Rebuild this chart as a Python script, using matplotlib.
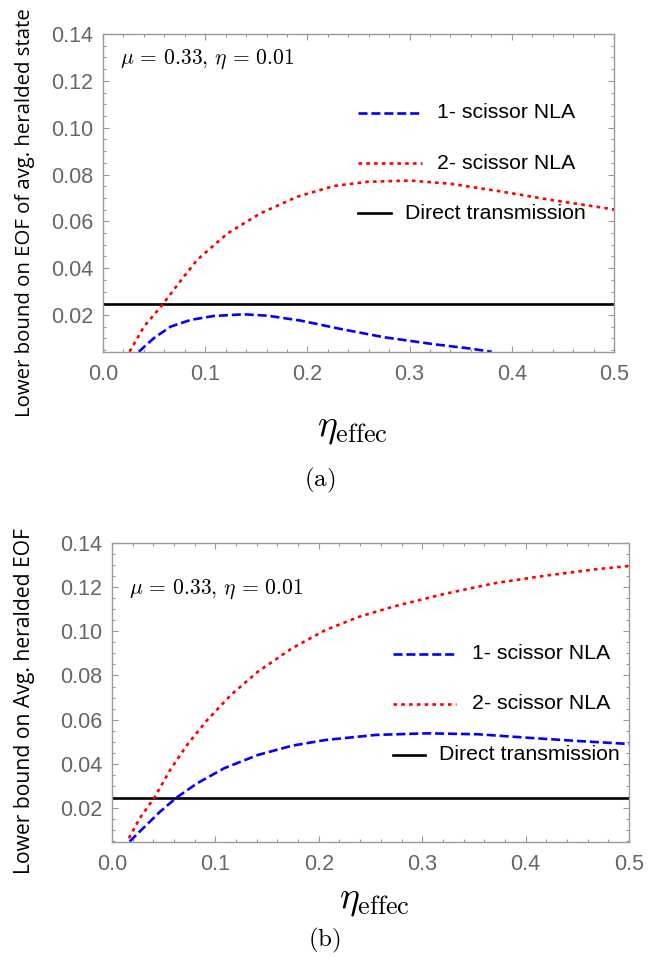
#!/usr/bin/env python3
"""
Lower bound on EOF vs eta_effec, two panels (a) and (b).
"""
import matplotlib
matplotlib.use("Agg")
import matplotlib.pyplot as plt
from matplotlib.ticker import MultipleLocator

plt.rcParams['mathtext.fontset'] = 'cm'
plt.rcParams['lines.scale_dashes'] = False

W, H = 670, 959

# panel (a): avg. heralded state
eta_a_one = [0.035, 0.0497, 0.066, 0.0857, 0.1086, 0.138, 0.161, 0.1936, 0.233, 0.275, 0.324, 0.357, 0.380]
eof_a_one = [0.0043, 0.0101, 0.0150, 0.0179, 0.0196, 0.0203, 0.0197, 0.0176, 0.0140, 0.0105, 0.0075, 0.0058, 0.0043]
eta_a_two = [0.026, 0.040, 0.058, 0.074, 0.092, 0.122, 0.154, 0.190, 0.226, 0.259, 0.301, 0.341, 0.390, 0.439, 0.500]
eof_a_two = [0.0043, 0.0150, 0.0243, 0.0335, 0.0435, 0.0549, 0.0634, 0.0705, 0.0751, 0.0769, 0.0774, 0.0760, 0.0727, 0.0691, 0.0651]

# panel (b): avg. heralded EOF
eta_b_one = [0.017, 0.030, 0.0464, 0.0627, 0.0824, 0.1085, 0.141, 0.174, 0.2065, 0.2556, 0.3046, 0.3536, 0.4026, 0.4516, 0.500]
eof_b_one = [0.0048, 0.0108, 0.0183, 0.0248, 0.0312, 0.0380, 0.0440, 0.0482, 0.0508, 0.0531, 0.0538, 0.0534, 0.0518, 0.0503, 0.0490]
eta_b_two = [0.0163, 0.0268, 0.0415, 0.0562, 0.0725, 0.0922, 0.115, 0.141, 0.174, 0.2065, 0.239, 0.272, 0.321, 0.370, 0.419, 0.468, 0.500]
eof_b_two = [0.0063, 0.0153, 0.0251, 0.0372, 0.0485, 0.0599, 0.0712, 0.0817, 0.0923, 0.1006, 0.1066, 0.1112, 0.1169, 0.1218, 0.1252, 0.1281, 0.1296]

direct_eof = 0.0247
x_range = [0.0, 0.5]
y_min_a, y_min_b, y_max = 0.0042, 0.0046, 0.14

legend_labels = ['1- scissor NLA', '2- scissor NLA', 'Direct transmission']
ylabel_a = 'Lower bound on EOF of avg. heralded state'
ylabel_b = 'Lower bound on Avg. heralded EOF'
note = r'$\mu\,=\,0.33,\,\eta\,=\,0.01$'

GRAY = '#9a9a9a'
TICK_TXT = '#666666'
LW = 1.9
TICK_FS = 15.5
LEG_FS = 15.3


def px(x, y):
    """pixel position -> figure fraction"""
    return x / W, 1 - y / H


def style_axes(ax, ymin):
    ax.set_xlim(*x_range)
    ax.set_ylim(ymin, y_max)
    ax.xaxis.set_major_locator(MultipleLocator(0.1))
    ax.xaxis.set_minor_locator(MultipleLocator(0.02))
    ax.yaxis.set_major_locator(MultipleLocator(0.02))
    ax.yaxis.set_minor_locator(MultipleLocator(0.005))
    ax.xaxis.set_major_formatter(lambda v, p: f'{v:.1f}')
    ax.yaxis.set_major_formatter(lambda v, p: f'{v:.2f}')
    ax.tick_params(which='both', direction='in', top=True, right=True, color=GRAY, width=0.8)
    ax.tick_params(which='major', length=4.5)
    ax.tick_params(which='minor', length=2.2)
    ax.tick_params(axis='x', which='major', pad=9, labelsize=TICK_FS, labelcolor=TICK_TXT)
    ax.tick_params(axis='y', which='major', pad=7, labelsize=TICK_FS, labelcolor=TICK_TXT)
    for lab in ax.get_xticklabels() + ax.get_yticklabels():
        lab.set_family('Liberation Sans')
    for s in ax.spines.values():
        s.set_color(GRAY)
        s.set_linewidth(1.0)


def draw_panel(ax, x1, y1, x2, y2, ymin, leg):
    ax.axhline(direct_eof, color='black', lw=LW)
    ax.plot(x1, y1, color='blue', lw=LW, dashes=(6.5, 2.8))
    ax.plot(x2, y2, color='red', lw=LW, dashes=(2.6, 3.0))
    style_axes(ax, ymin)

    # legend drawn by hand, Mathematica style (shorter solid handle)
    lx0, lx1, tx, ly_blue, ly_red, lx1_black, tx_black, ly_black = leg
    ax.plot([lx0, lx1], [ly_blue, ly_blue], transform=ax.transAxes, color='blue',
            lw=LW, dashes=(6.5, 2.8), clip_on=False)
    ax.plot([lx0, lx1], [ly_red, ly_red], transform=ax.transAxes, color='red',
            lw=LW, dashes=(2.6, 3.0), clip_on=False)
    ax.plot([lx0, lx1_black], [ly_black, ly_black], transform=ax.transAxes, color='black',
            lw=LW, clip_on=False)
    for txt, xx, yy in zip(legend_labels, [tx, tx, tx_black], [ly_blue, ly_red, ly_black]):
        ax.text(xx, yy, txt, transform=ax.transAxes, ha='left', va='center',
                fontsize=LEG_FS, family='Liberation Sans')


fig = plt.figure(figsize=(W / 100, H / 100), dpi=100)

ax_a = fig.add_axes([103 / W, 1 - 352 / H, 511 / W, 318 / H])
draw_panel(ax_a, eta_a_one, eof_a_one, eta_a_two, eof_a_two, y_min_a,
           (0.499, 0.624, 0.654, 0.752, 0.594, 0.564, 0.591, 0.437))
ax_a.text(0.033, 0.921, note, transform=ax_a.transAxes, ha='left', va='center', fontsize=15.5)

ax_b = fig.add_axes([112 / W, 1 - 842 / H, 517 / W, 299 / H])
draw_panel(ax_b, eta_b_one, eof_b_one, eta_b_two, eof_b_two, y_min_b,
           (0.544, 0.665, 0.697, 0.629, 0.462, 0.606, 0.632, 0.291))
ax_b.text(0.033, 0.846, note, transform=ax_b.transAxes, ha='left', va='center', fontsize=15.5)

# axis labels and captions
fig.text(*px(352, 428), r'$\eta_{\mathrm{effec}}$', ha='center', va='center', fontsize=27)
fig.text(*px(374, 900), r'$\eta_{\mathrm{effec}}$', ha='center', va='center', fontsize=27)
fig.text(*px(320, 480), r'$\mathrm{(a)}$', ha='center', va='center', fontsize=18)
fig.text(*px(324, 940), r'$\mathrm{(b)}$', ha='center', va='center', fontsize=18)
fig.text(*px(25, 213), ylabel_a, rotation=90, ha='center', va='center',
         fontsize=14.7, family='Open Sans')
fig.text(*px(25, 701), ylabel_b, rotation=90, ha='center', va='center',
         fontsize=15.2, family='Open Sans')

fig.savefig('out.png', dpi=100)
